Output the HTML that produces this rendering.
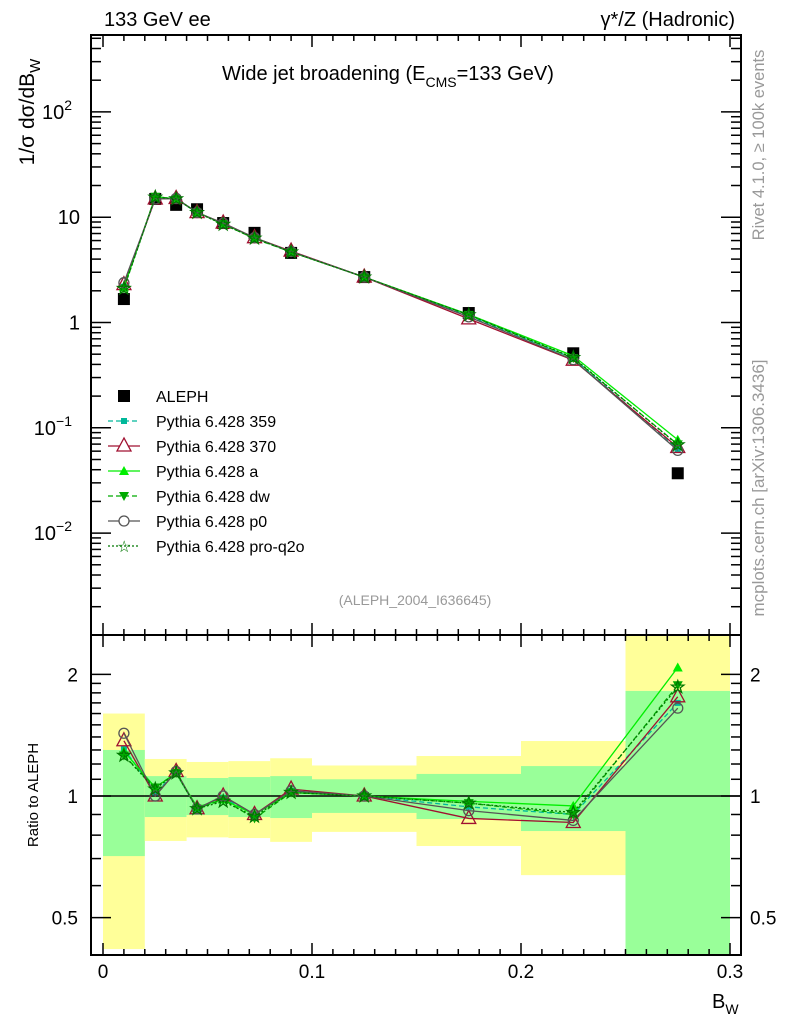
<!DOCTYPE html>
<html><head><meta charset="utf-8"><style>
body{margin:0;background:#fff}
svg{display:block;font-family:"Liberation Sans",sans-serif}
</style></head><body>
<svg id="c" width="786" height="1024" xmlns="http://www.w3.org/2000/svg"></svg>
<script>
const xVals=[0.01,0.025,0.035,0.045,0.0575,0.0725,0.09,0.125,0.175,0.225,0.275];
const aleph=[1.67,14.9,13.1,11.9,8.8,7.1,4.58,2.7,1.23,0.51,0.037];
const r359=[1.31,1.02,1.14,0.93,0.99,0.9,1.03,1.0,0.94,0.9,1.7];
const r370=[1.37,1.0,1.15,0.93,1.0,0.9,1.04,1.0,0.88,0.86,1.76];
const rA=[1.29,1.05,1.14,0.94,0.98,0.9,1.02,1.0,0.97,0.945,2.08];
const rDW=[1.26,1.05,1.14,0.93,0.98,0.88,1.02,1.0,0.96,0.9,1.88];
const rP0=[1.43,1.0,1.15,0.93,1.0,0.9,1.03,1.0,0.92,0.87,1.65];
const rQ2O=[1.26,1.04,1.14,0.93,0.97,0.89,1.02,1.0,0.96,0.91,1.86];
const bandEdges=[0,0.02,0.04,0.06,0.08,0.1,0.15,0.2,0.25,0.3];
const yelHi=[1.60,1.235,1.214,1.22,1.24,1.19,1.256,1.368,3.0];
const yelLo=[0.418,0.774,0.79,0.787,0.77,0.815,0.752,0.637,1.82];
const grnHi=[1.30,1.12,1.108,1.114,1.12,1.10,1.134,1.186,1.82];
const grnLo=[0.71,0.887,0.897,0.887,0.882,0.908,0.877,0.819,0.3];
const xTicks=[0,0.1,0.2,0.3];

const S=document.getElementById('c');const NS='http://www.w3.org/2000/svg';
function el(t,a,p){const e=document.createElementNS(NS,t);for(const k in a)e.setAttribute(k,a[k]);(p||S).appendChild(e);return e;}
const X=v=>103+v*2090;
const Y=v=>322.5-Math.log10(v)*105.3;
const R=v=>796-Math.log10(v)*404;
const L=91,RT=741,T=35,MB=635,B=955;

const defs=el('defs',{});
const c1=el('clipPath',{id:'cm'},defs);el('rect',{x:L,y:T,width:RT-L,height:MB-T},c1);
const c2=el('clipPath',{id:'cr'},defs);el('rect',{x:L,y:MB,width:RT-L,height:B-MB},c2);
const gm=el('g',{'clip-path':'url(#cm)'});
const gr=el('g',{'clip-path':'url(#cr)'});

for(let i=0;i<bandEdges.length-1;i++){
 const x0=X(bandEdges[i]),x1=X(bandEdges[i+1]);
 const y=el('rect',{x:x0,y:R(yelHi[i]),width:x1-x0,height:R(yelLo[i])-R(yelHi[i]),fill:'#ffff99'},gr);
 
 
 const g=el('rect',{x:x0,y:R(grnHi[i]),width:x1-x0,height:R(grnLo[i])-R(grnHi[i]),fill:'#99ff99'},gr);
 
 
}
el('line',{x1:L,x2:RT,y1:R(1),y2:R(1),stroke:'#000','stroke-width':1.5},gr);

function marker(g,type,x,y,col){
 let m;
 if(type==='sq'){m=el('rect',{x:x-3,y:y-3,width:6,height:6,fill:col},g);}
 else if(type==='tri'){m=el('polygon',{points:`${x},${y-8} ${x-7},${y+5} ${x+7},${y+5}`,fill:'none',stroke:col,'stroke-width':1.3},g);}
 else if(type==='ftri'){m=el('polygon',{points:`${x},${y-5} ${x-5},${y+4} ${x+5},${y+4}`,fill:col},g);}
 else if(type==='dtri'){m=el('polygon',{points:`${x},${y+5} ${x-5},${y-4} ${x+5},${y-4}`,fill:col},g);}
 else if(type==='circ'){m=el('circle',{cx:x,cy:y,r:5,fill:'none',stroke:col,'stroke-width':1.3},g);}
 else if(type==='star'){let p=[];for(let k=0;k<10;k++){const r=k%2?2.6:6.5,a=-Math.PI/2+k*Math.PI/5;p.push((x+r*Math.cos(a)).toFixed(1)+','+(y+r*Math.sin(a)).toFixed(1));}m=el('polygon',{points:p.join(' '),fill:'none',stroke:col,'stroke-width':1.3},g);}
 else if(type==='big'){m=el('rect',{x:x-6,y:y-6,width:12,height:12,fill:col},g);}
 return m;
}
const series=[
 {n:'pythia-359',r:r359,col:'#00b89a',dash:'5,3',m:'sq'},
 {n:'pythia-370',r:r370,col:'#a01030',dash:'',m:'tri'},
 {n:'pythia-a',r:rA,col:'#00ee00',dash:'',m:'ftri'},
 {n:'pythia-dw',r:rDW,col:'#00aa00',dash:'5,3',m:'dtri'},
 {n:'pythia-p0',r:rP0,col:'#555555',dash:'',m:'circ'},
 {n:'pythia-pro-q2o',r:rQ2O,col:'#007700',dash:'2,2',m:'star'}
];
aleph.forEach((v,i)=>{const m=marker(gm,'big',X(xVals[i]),Y(v),'#000');
 
 });
series.forEach(s=>{
 const vals=s.r.map((r,i)=>r*aleph[i]);
 const gmS=el('g',{},gm);
 const grS=el('g',{},gr);
 el('polyline',{points:vals.map((v,i)=>X(xVals[i])+','+Y(v)).join(' '),fill:'none',stroke:s.col,'stroke-width':1.3,'stroke-dasharray':s.dash},gmS);
 el('polyline',{points:s.r.map((v,i)=>X(xVals[i])+','+R(v)).join(' '),fill:'none',stroke:s.col,'stroke-width':1.3,'stroke-dasharray':s.dash},grS);
 vals.forEach((v,i)=>marker(gmS,s.m,X(xVals[i]),Y(v),s.col));
 s.r.forEach((v,i)=>marker(grS,s.m,X(xVals[i]),R(v),s.col));
});

el('rect',{x:L,y:T,width:RT-L,height:MB-T,fill:'none',stroke:'#000','stroke-width':2});
el('rect',{x:L,y:MB,width:RT-L,height:B-MB,fill:'none',stroke:'#000','stroke-width':2});
for(let v=0;v<=0.3001;v+=0.01){const x=X(v);const maj=Math.abs(v*10-Math.round(v*10))<1e-6;const l=maj?12:6;
 [[T,1],[MB,-1],[MB,1],[B,-1]].forEach(([y,d])=>el('line',{x1:x,x2:x,y1:y,y2:y+d*l,stroke:'#000','stroke-width':1.5}));}
xTicks.forEach(v=>{const t=el('text',{x:X(v),y:978,'font-size':19,'text-anchor':'middle'});t.textContent=v===0?'0':String(v);
 
 });
for(let e=-3;e<=2;e++){for(let k=1;k<10;k++){const v=k*Math.pow(10,e);const y=Y(v);if(y<T||y>MB)continue;const l=k===1?20:10;
 el('line',{x1:L,x2:L+l,y1:y,y2:y,stroke:'#000','stroke-width':1.5});el('line',{x1:RT,x2:RT-l,y1:y,y2:y,stroke:'#000','stroke-width':1.5});}}
const ylab=[[100,'10','2'],[10,'10',''],[1,'1',''],[0.1,'10','−1'],[0.01,'10','−2']];
ylab.forEach(([v,b,e])=>{const t=el('text',{x:e?72:80,y:Y(v)+7,'font-size':20,'text-anchor':'end'});t.textContent=b;
 if(e){const s=el('tspan',{dy:-9,'font-size':14},t);s.textContent=e;}
 
 });
[0.4,0.5,0.6,0.7,0.8,0.9,1,1.1,1.2,1.3,1.4,1.5,1.6,1.7,1.8,1.9,2,3].forEach(v=>{const y=R(v);if(y<MB||y>B)return;const maj=[0.5,1,2].includes(v);const l=maj?20:10;
 el('line',{x1:L,x2:L+l,y1:y,y2:y,stroke:'#000','stroke-width':1.5});el('line',{x1:RT,x2:RT-l,y1:y,y2:y,stroke:'#000','stroke-width':1.5});});
[[2,'2'],[1,'1'],[0.5,'0.5']].forEach(([v,s])=>{
 const a=el('text',{x:78,y:R(v)+7,'font-size':19,'text-anchor':'end'});a.textContent=s;
 
 const b=el('text',{x:750,y:R(v)+7,'font-size':19});b.textContent=s;
 });
</script>
<svg width="786" height="1024" style="position:absolute;left:0;top:0;font-family:'Liberation Sans',sans-serif">
<text x="104" y="26" font-size="20">133 GeV ee</text>
<text x="735" y="26" font-size="20" text-anchor="end">γ*/Z (Hadronic)</text>
<text x="222" y="80" font-size="20">Wide jet broadening (E<tspan dy="7" font-size="14">CMS</tspan><tspan dy="-7">=133 GeV)</tspan></text>
<text transform="translate(34,112) rotate(-90)" font-size="21" text-anchor="middle">1/σ  dσ/dB<tspan dy="6" font-size="15">W</tspan></text>
<text transform="translate(38,795) rotate(-90)" font-size="15" text-anchor="middle">Ratio to ALEPH</text>
<text x="712" y="1008" font-size="20">B<tspan dy="6" font-size="14">W</tspan></text>
<text transform="translate(764,145) rotate(-90)" font-size="16.5" fill="#999" text-anchor="middle">Rivet 4.1.0, ≥ 100k events</text>
<text transform="translate(764,488) rotate(-90)" font-size="17" fill="#999" text-anchor="middle">mcplots.cern.ch [arXiv:1306.3436]</text>
<text x="415" y="605" font-size="14" fill="#999" text-anchor="middle">(ALEPH_2004_I636645)</text>
<g font-size="16">
<rect x="118" y="390" width="12" height="12" fill="#000"/><text x="156" y="402">ALEPH</text>
<line x1="108" x2="140" y1="421" y2="421" stroke="#00b89a" stroke-dasharray="5,3" stroke-width="1.3"/><rect x="121" y="418" width="6" height="6" fill="#00b89a"/><text x="156" y="427">Pythia 6.428 359</text>
<line x1="108" x2="140" y1="446" y2="446" stroke="#a01030" stroke-width="1.3"/><polygon points="124,438 117,451 131,451" fill="#fff" stroke="#a01030" stroke-width="1.3"/><text x="156" y="452">Pythia 6.428 370</text>
<line x1="108" x2="140" y1="471" y2="471" stroke="#00ee00" stroke-width="1.3"/><polygon points="124,466 119,475 129,475" fill="#00ee00"/><text x="156" y="477">Pythia 6.428 a</text>
<line x1="108" x2="140" y1="496" y2="496" stroke="#00aa00" stroke-dasharray="5,3" stroke-width="1.3"/><polygon points="124,501 119,492 129,492" fill="#00aa00"/><text x="156" y="502">Pythia 6.428 dw</text>
<line x1="108" x2="140" y1="521" y2="521" stroke="#555" stroke-width="1.3"/><circle cx="124" cy="521" r="5" fill="#fff" stroke="#555" stroke-width="1.3"/><text x="156" y="527">Pythia 6.428 p0</text>
<line x1="108" x2="140" y1="546" y2="546" stroke="#007700" stroke-dasharray="2,2" stroke-width="1.3"/><text x="117" y="552" font-size="16" fill="#007700">☆</text><text x="156" y="552">Pythia 6.428 pro-q2o</text>
</g>
</svg>
</body></html>
